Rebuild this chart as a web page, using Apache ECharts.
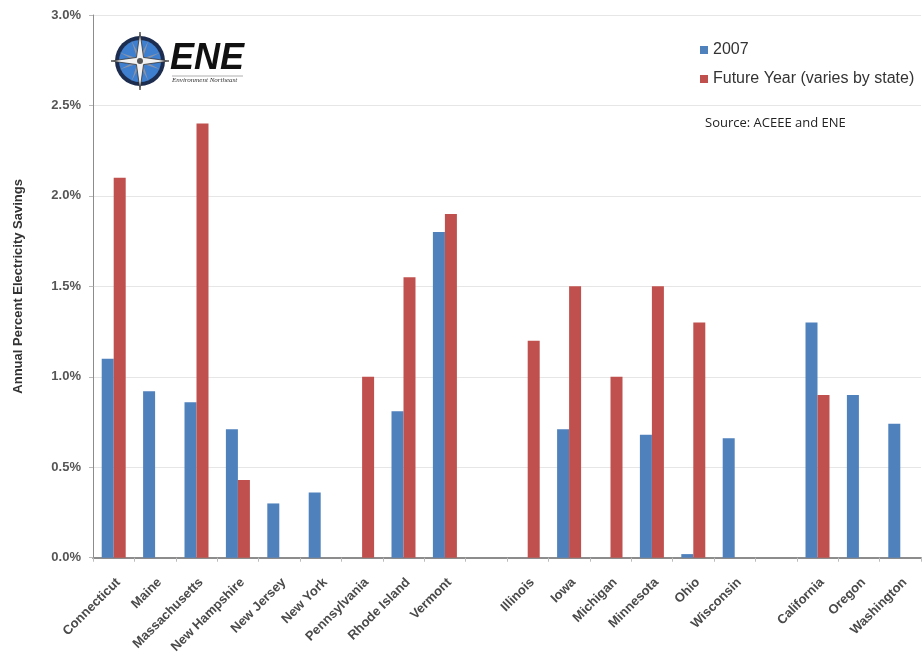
<!DOCTYPE html>
<html>
<head>
<meta charset="utf-8">
<script src="https://cdn.jsdelivr.net/npm/echarts@6/dist/echarts.min.js"></script>
<style>
  html, body { margin: 0; padding: 0; background: #fff; }
  #main { width: 922px; height: 656px; }
</style>
</head>
<body>
<div id="main"></div>
<script>
// states, with blank slots between the regions
var states = ['Connecticut', 'Maine', 'Massachusetts', 'New Hampshire', 'New Jersey', 'New York',
  'Pennsylvania', 'Rhode Island', 'Vermont', '',
  'Illinois', 'Iowa', 'Michigan', 'Minnesota', 'Ohio', 'Wisconsin', '',
  'California', 'Oregon', 'Washington'];
// annual percent savings (%)
var savings2007 = [1.10, 0.92, 0.86, 0.71, 0.30, 0.36, null, 0.81, 1.80, null,
  null, 0.71, null, 0.68, 0.02, 0.66, null, 1.30, 0.90, 0.74];
var savingsFuture = [2.10, null, 2.40, 0.43, null, null, 1.00, 1.55, 1.90, null,
  1.20, 1.50, 1.00, 1.50, 1.30, null, null, 0.90, null, null];
var yTicks = [0, 0.5, 1.0, 1.5, 2.0, 2.5, 3.0];

var chart = echarts.init(document.getElementById('main'));

// compass star points for the logo
function star(cx, cy, r1, r2, n, rot) {
  var pts = [];
  for (var i = 0; i < n * 2; i++) {
    var r = i % 2 === 0 ? r1 : r2;
    var a = rot + i * Math.PI / n;
    pts.push([cx + r * Math.sin(a), cy - r * Math.cos(a)]);
  }
  return pts;
}

var option = {
  animation: false,
  backgroundColor: '#fff',
  grid: { left: 93, right: 1, top: 15, bottom: 98, containLabel: false },
  legend: {
    orient: 'vertical',
    left: 695,
    top: 37,
    itemWidth: 8,
    itemHeight: 8,
    itemGap: 13,
    icon: 'rect',
    textStyle: { fontFamily: 'Liberation Sans, Arial', fontSize: 16, color: '#333' },
    data: ['2007', 'Future Year (varies by state)']
  },
  xAxis: {
    type: 'category',
    data: states,
    boundaryGap: true,
    axisLine: { lineStyle: { color: '#8c8c8c', width: 2 } },
    axisTick: { show: true, length: 4, lineStyle: { color: '#bbb' } },
    axisLabel: {
      interval: 0,
      rotate: 45,
      margin: 18,
      verticalAlign: 'top',
      fontFamily: 'Liberation Sans, Arial',
      fontSize: 13,
      fontWeight: 'bold',
      color: '#4a4a4a'
    }
  },
  yAxis: {
    type: 'value',
    min: yTicks[0],
    max: yTicks[yTicks.length - 1],
    interval: 0.5,
    name: 'Annual Percent Electricity Savings',
    nameLocation: 'middle',
    nameGap: 68,
    nameRotate: 90,
    nameTextStyle: { fontFamily: 'Liberation Sans, Arial', fontSize: 13, fontWeight: 'bold', color: '#333' },
    axisLine: { show: true, lineStyle: { color: '#8c8c8c', width: 1 } },
    axisTick: { show: true, length: 4, lineStyle: { color: '#bbb' } },
    splitLine: { lineStyle: { color: '#e6e6e6', width: 1 } },
    axisLabel: {
      margin: 12,
      fontFamily: 'Liberation Sans, Arial',
      fontSize: 13,
      fontWeight: 'bold',
      color: '#555',
      formatter: function (v) { return v.toFixed(1) + '%'; }
    }
  },
  series: [
    {
      name: '2007',
      type: 'bar',
      data: savings2007,
      barWidth: 12,
      barGap: '0%',
      itemStyle: { color: '#4f81bd' }
    },
    {
      name: 'Future Year (varies by state)',
      type: 'bar',
      data: savingsFuture,
      barWidth: 12,
      itemStyle: { color: '#c0504d' }
    }
  ],
  graphic: [
    {
      type: 'text', left: 705, top: 117,
      style: { text: 'Source: ACEEE and ENE', font: '13px "Open Sans", "Liberation Sans", sans-serif', fill: '#222' }
    },
    // ENE logo
    { type: 'circle', shape: { cx: 140, cy: 61, r: 25 }, style: { fill: '#1d2d4f' } },
    { type: 'circle', shape: { cx: 140, cy: 61, r: 21 }, style: { fill: '#3f7fcf' } },
    { type: 'polygon', shape: { points: star(140, 61, 22, 4, 8, Math.PI / 8) }, style: { fill: '#8a94a8' } },
    { type: 'polygon', shape: { points: star(140, 61, 29, 5, 4, 0) }, style: { fill: '#f2f2f2', stroke: '#333', lineWidth: 0.8 } },
    { type: 'circle', shape: { cx: 140, cy: 61, r: 3 }, style: { fill: '#555' } },
    {
      type: 'text', left: 170, top: 41,
      style: { text: 'ENE', font: 'italic bold 36px "Liberation Sans", Arial', fill: '#111' }
    },
    { type: 'line', shape: { x1: 172, y1: 76, x2: 243, y2: 76 }, style: { stroke: '#999', lineWidth: 0.8 } },
    {
      type: 'text', left: 172, top: 77,
      style: { text: 'Environment Northeast', font: 'italic 7px "Liberation Serif", serif', fill: '#333' }
    }
  ]
};
chart.setOption(option);
</script>
</body>
</html>
